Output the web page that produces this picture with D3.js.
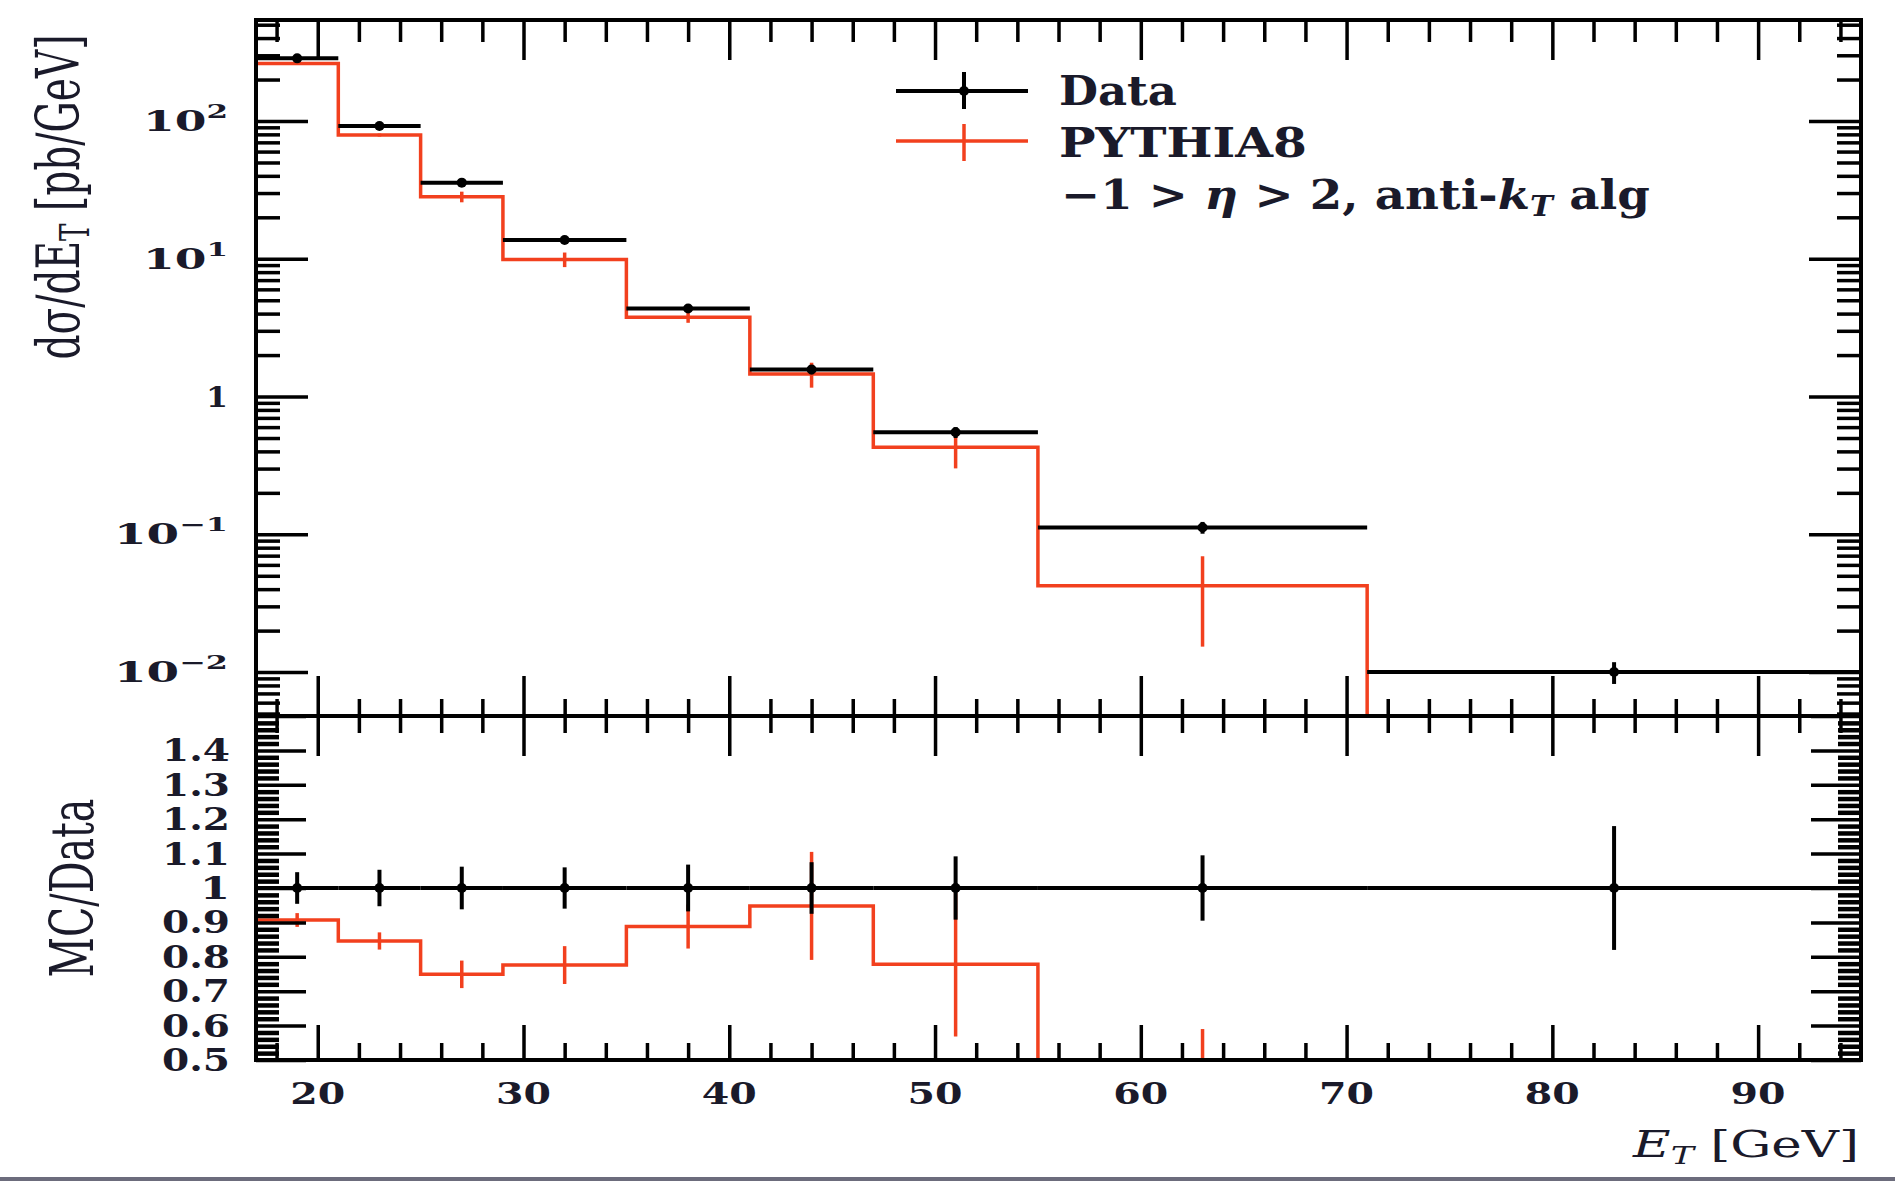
<!DOCTYPE html>
<html>
<head>
<meta charset="utf-8">
<script src="https://cdn.jsdelivr.net/npm/d3@7"></script>
<style>
  body { margin: 0; background: #fff; }
  svg { display: block; }
</style>
</head>
<body>
<svg id="chart"></svg>
<script>
// ---- data ----
const binEdges = [17, 21, 25, 29, 35, 41, 47, 55, 71, 95];
const binCenters = [19, 23, 27, 32, 38, 44, 51, 63, 83];

const dataValues = [285, 92, 35.7, 13.7, 4.36, 1.57, 0.55, 0.112, 0.0100];
const dataErrors = [13, 4.9, 2.1, 0.82, 0.30, 0.12, 0.05, 0.011, 0.0018];

const mcValues = [262, 79.1, 28.2, 9.9, 3.76, 1.46, 0.428, 0.0423, null];
const mcErrors = [3, 2, 2.5, 1.2, 0.33, 0.3, 0.127, 0.027, null];

const dataRatioErrors = [0.046, 0.053, 0.062, 0.06, 0.068, 0.075, 0.092, 0.095, 0.18];
const mcRatio = [0.907, 0.846, 0.749, 0.776, 0.888, 0.948, 0.778, 0.38, null];
const mcRatioErrors = [0.02, 0.025, 0.04, 0.055, 0.064, 0.157, 0.21, 0.21, null];

const xTickValues = [20, 30, 40, 50, 60, 70, 80, 90];
const logTickValues = [0.01, 0.1, 1, 10, 100];
const logTickExponents = ['\u22122', '\u22121', null, '1', '2'];
const ratioTickValues = [0.5, 0.6, 0.7, 0.8, 0.9, 1, 1.1, 1.2, 1.3, 1.4];
const ratioTickLabels = ['0.5', '0.6', '0.7', '0.8', '0.9', '1', '1.1', '1.2', '1.3', '1.4'];

// ---- layout ----
const W = 1895, H = 1181;
const frame = { left: 256, right: 1861, top: 20, mid: 716, bottom: 1060 };
const RED = '#f2401e';
const INK = '#1a1a2a';
const FONT = '"DejaVu Serif", "Liberation Serif", serif';

const svg = d3.select('#chart').attr('width', W).attr('height', H)
    .style('font-family', FONT);
svg.append('rect').attr('width', W).attr('height', H).attr('fill', '#fff');
svg.append('rect').attr('x', 0).attr('y', 1177).attr('width', W).attr('height', 4).attr('fill', '#6c6c7c');

const x = d3.scaleLinear().domain([17, 95]).range([frame.left, frame.right]);
const yMain = d3.scaleLog().domain([0.0048, 541]).range([frame.mid, frame.top]);
const yRatio = d3.scaleLinear().domain([0.5, 1.5]).range([frame.bottom, frame.mid]);

const defs = svg.append('defs');
defs.append('clipPath').attr('id', 'clip-main').append('rect')
    .attr('x', frame.left).attr('y', frame.top)
    .attr('width', frame.right - frame.left).attr('height', frame.mid - frame.top);
defs.append('clipPath').attr('id', 'clip-ratio').append('rect')
    .attr('x', frame.left).attr('y', frame.mid)
    .attr('width', frame.right - frame.left).attr('height', frame.bottom - frame.mid);

// step outline of a histogram, dropping to the floor where the value is missing
function stepPoints(values, yScale, floorY) {
    const pts = [];
    for (let i = 0; i < values.length; i++) {
        const v = values[i];
        if (v == null) { pts.push([x(binEdges[i]), floorY]); break; }
        const yy = Math.min(yScale(v), floorY);
        pts.push([x(binEdges[i]), yy], [x(binEdges[i + 1]), yy]);
    }
    return pts;
}

function drawPanel(clipId, yScale, floorY, mcVals, mcErrs, dataVals, dataErrs) {
    const g = svg.append('g').attr('clip-path', `url(#${clipId})`);
    const yc = v => Math.min(v > 0 ? yScale(v) : floorY, floorY);

    // MC histogram
    g.append('path')
        .attr('d', d3.line()(stepPoints(mcVals, yScale, floorY)))
        .attr('fill', 'none').attr('stroke', RED).attr('stroke-width', 3.5);
    g.selectAll('line.mcerr')
        .data(binCenters.map((c, i) => ({ c, v: mcVals[i], e: mcErrs[i] })).filter(d => d.v != null))
        .join('line').attr('class', 'mcerr')
        .attr('x1', d => x(d.c)).attr('x2', d => x(d.c))
        .attr('y1', d => yc(d.v - d.e)).attr('y2', d => yc(d.v + d.e))
        .attr('stroke', RED).attr('stroke-width', 3.5);

    // data: horizontal bin bars, vertical errors, dots
    const pts = binCenters.map((c, i) => ({ i, c, v: dataVals[i], e: dataErrs[i] }));
    g.selectAll('line.dbar').data(pts).join('line').attr('class', 'dbar')
        .attr('x1', d => x(binEdges[d.i])).attr('x2', d => x(binEdges[d.i + 1]))
        .attr('y1', d => yScale(d.v)).attr('y2', d => yScale(d.v))
        .attr('stroke', '#000').attr('stroke-width', 4);
    g.selectAll('line.derr').data(pts).join('line').attr('class', 'derr')
        .attr('x1', d => x(d.c)).attr('x2', d => x(d.c))
        .attr('y1', d => yc(d.v - d.e)).attr('y2', d => yc(d.v + d.e))
        .attr('stroke', '#000').attr('stroke-width', 4);
    g.selectAll('circle.dot').data(pts).join('circle').attr('class', 'dot')
        .attr('cx', d => x(d.c)).attr('cy', d => yScale(d.v)).attr('r', 5).attr('fill', '#000');
}

drawPanel('clip-main', yMain, frame.mid, mcValues, mcErrors, dataValues, dataErrors);
drawPanel('clip-ratio', yRatio, frame.bottom, mcRatio, mcRatioErrors,
    binCenters.map(() => 1), dataRatioErrors);

// ---- ticks (d3 axes, labels drawn separately) ----
function tickAxis(gen, tx, ty, width) {
    const g = svg.append('g').attr('transform', `translate(${tx},${ty})`).call(gen);
    g.select('.domain').remove();
    g.selectAll('text').remove();
    g.selectAll('line').attr('stroke', '#000').attr('stroke-width', width || 3.5);
}

const xMinor = d3.range(18, 95, 2).filter(v => v % 10 !== 0);
const logMinor = [];
[-3, -2, -1, 0, 1, 2].forEach(k => d3.range(2, 10).forEach(m => {
    const v = m * Math.pow(10, k);
    if (v >= 0.0048 && v <= 541) logMinor.push(v);
}));
const ratioMinor = d3.range(50, 151, 2).map(i => i / 100).filter(v => Math.round(v * 100) % 10 !== 0);
const ratioMajor = ratioTickValues.concat([1.5]);

// top edge
tickAxis(d3.axisTop(x).tickValues(xTickValues).tickSize(-40), 0, frame.top);
tickAxis(d3.axisTop(x).tickValues(xMinor).tickSize(-22), 0, frame.top);
// shared middle edge
tickAxis(d3.axisBottom(x).tickValues(xTickValues).tickSize(-40), 0, frame.mid);
tickAxis(d3.axisBottom(x).tickValues(xMinor).tickSize(-17), 0, frame.mid);
tickAxis(d3.axisTop(x).tickValues(xTickValues).tickSize(-40), 0, frame.mid);
tickAxis(d3.axisTop(x).tickValues(xMinor).tickSize(-17), 0, frame.mid);
// bottom edge
tickAxis(d3.axisBottom(x).tickValues(xTickValues).tickSize(-35), 0, frame.bottom);
tickAxis(d3.axisBottom(x).tickValues(xMinor).tickSize(-17), 0, frame.bottom);
// main panel left / right
tickAxis(d3.axisLeft(yMain).tickValues(logTickValues).tickSize(-52), frame.left, 0);
tickAxis(d3.axisLeft(yMain).tickValues(logMinor).tickSize(-24), frame.left, 0);
tickAxis(d3.axisRight(yMain).tickValues(logTickValues).tickSize(-52), frame.right, 0);
tickAxis(d3.axisRight(yMain).tickValues(logMinor).tickSize(-24), frame.right, 0);
// ratio panel left / right
tickAxis(d3.axisLeft(yRatio).tickValues(ratioMajor).tickSize(-50), frame.left, 0);
tickAxis(d3.axisLeft(yRatio).tickValues(ratioMinor).tickSize(-23), frame.left, 0, 4.5);
tickAxis(d3.axisRight(yRatio).tickValues(ratioMajor).tickSize(-50), frame.right, 0);
tickAxis(d3.axisRight(yRatio).tickValues(ratioMinor).tickSize(-23), frame.right, 0, 4.5);

// frames
[[frame.top, frame.mid], [frame.mid, frame.bottom]].forEach(([t, b]) => {
    svg.append('rect').attr('x', frame.left).attr('y', t)
        .attr('width', frame.right - frame.left).attr('height', b - t)
        .attr('fill', 'none').attr('stroke', '#000').attr('stroke-width', 4);
});

// ---- text helpers ----
// horizontal text stretched to a given width, anchored at (tx, ty)
function fitH(sel, tx, ty, width) {
    const L = sel.node().getComputedTextLength();
    sel.attr('x', 0).attr('y', 0)
        .attr('transform', `translate(${tx},${ty}) scale(${width / L},1)`);
}
// vertical text (reading upward), length along y, perpendicular extent along x
function fitV(sel, cx, cy, len, perp, perpRatio) {
    const L = sel.node().getComputedTextLength();
    const F = parseFloat(sel.attr('font-size'));
    const k = len / L;
    const sx = perp / (perpRatio * F * k);
    sel.attr('x', 0).attr('y', 0).attr('text-anchor', 'middle')
        .attr('transform', `translate(${cx},${cy}) scale(${sx},1) rotate(-90) scale(${k})`);
}

// x tick labels
xTickValues.forEach(v => {
    const t = svg.append('text').attr('font-size', 30).attr('font-weight', 'bold')
        .attr('text-anchor', 'middle').attr('fill', INK).text(v);
    fitH(t, x(v), 1104, 55);
});

// main panel y labels
logTickValues.forEach((v, i) => {
    const t = svg.append('text').attr('font-size', 28).attr('font-weight', 'bold')
        .attr('text-anchor', 'end').attr('fill', INK);
    const exp = logTickExponents[i];
    if (exp == null) {
        t.text('1');
        fitH(t, 228, yMain(v) + 10, 22);
    } else {
        t.append('tspan').text('10');
        t.append('tspan').attr('font-size', 19).attr('dy', -13).text(exp);
        fitH(t, 228, yMain(v) + 10, exp.length > 1 ? 114 : 85);
    }
});

// ratio y labels
ratioTickValues.forEach((v, i) => {
    const s = ratioTickLabels[i];
    const t = svg.append('text').attr('font-size', 31).attr('font-weight', 'bold')
        .attr('text-anchor', 'end').attr('fill', INK).text(s);
    fitH(t, 230, yRatio(v) + 11, s.length > 1 ? 68 : 30);
});

// axis titles
const yTitle = svg.append('text').attr('font-size', 36).attr('fill', INK);
yTitle.append('tspan').text('d\u03c3/dE');
yTitle.append('tspan').attr('font-size', 24).attr('dy', 6).text('T');
yTitle.append('tspan').attr('dy', -6).text(' [pb/GeV]');
fitV(yTitle, 79, 197, 325, 46, 0.76);

const rTitle = svg.append('text').attr('font-size', 36).attr('fill', INK).text('MC/Data');
fitV(rTitle, 93, 888, 179, 44, 0.729);

const xTitle = svg.append('text').attr('font-size', 37).attr('fill', INK).attr('text-anchor', 'end');
xTitle.append('tspan').attr('font-style', 'italic').text('E');
xTitle.append('tspan').attr('font-style', 'italic').attr('font-size', 25).attr('dy', 7).text('T');
xTitle.append('tspan').attr('dy', -7).text(' [GeV]');
fitH(xTitle, 1859, 1157, 226);

// ---- legend ----
const leg = svg.append('g');
leg.append('line').attr('x1', 896).attr('x2', 1028).attr('y1', 91).attr('y2', 91)
    .attr('stroke', '#000').attr('stroke-width', 4);
leg.append('line').attr('x1', 964).attr('x2', 964).attr('y1', 72).attr('y2', 109)
    .attr('stroke', '#000').attr('stroke-width', 4);
leg.append('circle').attr('cx', 964).attr('cy', 91).attr('r', 5).attr('fill', '#000');
leg.append('line').attr('x1', 896).attr('x2', 1028).attr('y1', 141).attr('y2', 141)
    .attr('stroke', RED).attr('stroke-width', 3.5);
leg.append('line').attr('x1', 964).attr('x2', 964).attr('y1', 124).attr('y2', 161)
    .attr('stroke', RED).attr('stroke-width', 3.5);

const l1 = leg.append('text').attr('font-size', 41).attr('font-weight', 'bold').attr('fill', INK).text('Data');
fitH(l1, 1059, 105, 118);
const l2 = leg.append('text').attr('font-size', 41).attr('font-weight', 'bold').attr('fill', INK).text('PYTHIA8');
fitH(l2, 1059, 157, 248);
const l3 = leg.append('text').attr('font-size', 41).attr('font-weight', 'bold').attr('fill', INK);
l3.append('tspan').text('\u22121 > ');
l3.append('tspan').attr('font-style', 'italic').text('\u03b7');
l3.append('tspan').text(' > 2, anti-');
l3.append('tspan').attr('font-style', 'italic').text('k');
l3.append('tspan').attr('font-style', 'italic').attr('font-size', 27).attr('dy', 7).text('T');
l3.append('tspan').attr('dy', -7).text(' alg');
fitH(l3, 1061, 209, 589);
</script>
</body>
</html>
